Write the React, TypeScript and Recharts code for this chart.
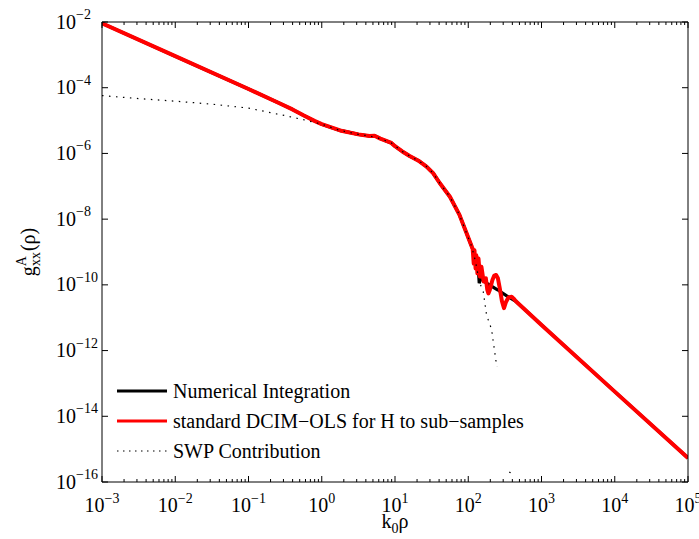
import { LineChart, Line, XAxis, YAxis, Legend, Label } from "recharts"

const FONT = '"Liberation Serif", "Times New Roman", serif'

// log10(k0*rho) and log10(g_xx^A)
const numLogX = [-3, -2, -1, -0.6, -0.4, -0.25, -0.1, 0, 0.25, 0.5, 0.65, 0.72, 0.8, 0.88, 0.95, 1.0, 1.1, 1.2, 1.32, 1.43, 1.52, 1.61, 1.75, 1.88, 1.96, 2.05, 2.08, 2.1, 2.12, 2.14, 2.15, 2.17, 2.25, 2.4, 2.52, 2.65, 3, 4, 5]
const numLogY = [-2.04, -3.04, -4.04, -4.45, -4.66, -4.84, -5.01, -5.11, -5.3, -5.42, -5.47, -5.46, -5.55, -5.62, -5.68, -5.78, -5.94, -6.08, -6.22, -6.4, -6.6, -6.9, -7.32, -7.87, -8.33, -8.85, -9.0, -9.3, -9.4, -9.6, -9.95, -9.8, -9.95, -10.15, -10.33, -10.5, -11.22, -13.25, -15.27]

const dcimLogX = [-3, -2, -1, -0.6, -0.4, -0.25, -0.1, 0, 0.25, 0.5, 0.65, 0.72, 0.8, 0.88, 0.95, 1.0, 1.1, 1.2, 1.32, 1.43, 1.52, 1.61, 1.75, 1.88, 1.96, 2.05, 2.06, 2.075, 2.085, 2.1, 2.11, 2.125, 2.14, 2.16, 2.18, 2.21, 2.24, 2.26, 2.275, 2.295, 2.33, 2.355, 2.38, 2.405, 2.43, 2.46, 2.488, 2.515, 2.55, 2.592, 2.62, 2.65, 3, 4, 5]
const dcimLogY = [-2.04, -3.04, -4.04, -4.45, -4.66, -4.84, -5.01, -5.11, -5.3, -5.42, -5.47, -5.46, -5.55, -5.62, -5.68, -5.78, -5.94, -6.08, -6.22, -6.4, -6.6, -6.9, -7.32, -7.87, -8.33, -8.85, -8.9, -9.35, -8.95, -9.5, -9.1, -9.65, -9.2, -9.75, -9.45, -9.9, -9.8, -10.15, -10.26, -10.15, -9.85, -9.72, -9.7, -9.8, -10.1, -10.5, -10.71, -10.52, -10.38, -10.36, -10.42, -10.5, -11.22, -13.25, -15.27]

const swpLogX = [-3, -2.5, -2, -1.5, -1, -0.5, -0.2, 0, 0.25, 0.5, 0.65, 0.8, 0.95, 1.1, 1.2, 1.32, 1.43, 1.52, 1.61, 1.75, 1.88, 1.96, 2.05, 2.1, 2.15, 2.205, 2.25, 2.318, 2.39]
const swpLogY = [-4.24, -4.33, -4.41, -4.5, -4.62, -4.85, -5.0, -5.11, -5.3, -5.42, -5.47, -5.55, -5.68, -5.94, -6.08, -6.22, -6.4, -6.6, -6.9, -7.32, -7.87, -8.33, -8.85, -9.3, -9.9, -10.21, -10.92, -11.35, -12.5]

const swpTailLogX = [2.56, 2.6]
const swpTailLogY = [-15.7, -15.74]

const xMajorExps = [-3, -2, -1, 0, 1, 2, 3, 4, 5]
const xMinorSteps = [2, 3, 4, 5, 6, 7, 8, 9]
const yMajorExps = [-16, -14, -12, -10, -8, -6, -4, -2]

const legendNames = ["Numerical Integration", "standard DCIM\u2212OLS for H to sub\u2212samples", "SWP Contribution"]

const toPoints = (lx: number[], ly: number[]) => lx.map((v, i) => ({ x: 10 ** v, y: 10 ** ly[i] }))

const numData = toPoints(numLogX, numLogY)
const dcimData = toPoints(dcimLogX, dcimLogY)
const swpData = toPoints(swpLogX, swpLogY)
const swpTailData = toPoints(swpTailLogX, swpTailLogY)

const xTicks: number[] = []
xMajorExps.forEach((e) => {
  xTicks.push(10 ** e)
  if (e < 5) xMinorSteps.forEach((m) => xTicks.push(m * 10 ** e))
})
const yTicks = yMajorExps.map((e) => 10 ** e)

const expText = (e: number) => (e < 0 ? "\u2212" + Math.abs(e) : String(e))

function isMajor(v: number) {
  const e = Math.log10(v)
  return Math.abs(e - Math.round(e)) < 1e-6
}

function BottomTick(props: any) {
  const { x, y, payload } = props
  const major = isMajor(payload.value)
  const e = Math.round(Math.log10(payload.value))
  return (
    <g>
      <line x1={x} x2={x} y1={y} y2={y - (major ? 6 : 3)} stroke="#000" />
      {major && (
        <text x={x} y={y + 30} textAnchor="middle" fontFamily={FONT} fill="#000">
          <tspan fontSize={20}>10</tspan>
          <tspan fontSize={14} dy={-9.5}>{expText(e)}</tspan>
        </text>
      )}
    </g>
  )
}

function TopTick(props: any) {
  const { x, y, payload } = props
  const major = isMajor(payload.value)
  return <line x1={x} x2={x} y1={y} y2={y + (major ? 6 : 3)} stroke="#000" />
}

function LeftTick(props: any) {
  const { x, y, payload } = props
  const e = Math.round(Math.log10(payload.value))
  return (
    <g>
      <line x1={x} x2={x + 6} y1={y} y2={y} stroke="#000" />
      <text x={x - 46} y={y + 6.5} textAnchor="start" fontFamily={FONT} fill="#000">
        <tspan fontSize={20}>10</tspan>
        <tspan fontSize={14} dy={-9.5}>{expText(e)}</tspan>
      </text>
    </g>
  )
}

function RightTick(props: any) {
  const { x, y } = props
  return <line x1={x} x2={x - 6} y1={y} y2={y} stroke="#000" />
}

function LegendBox() {
  const samples = [
    { stroke: "#000", width: 3, dash: undefined },
    { stroke: "#ff0000", width: 3, dash: undefined },
    { stroke: "#000", width: 1.2, dash: "1.5 4.5" },
  ]
  return (
    <div style={{ fontFamily: FONT, fontSize: 20, color: "#000" }}>
      {legendNames.map((name, i) => (
        <div key={name} style={{ display: "flex", alignItems: "center", height: 30 }}>
          <svg width={50} height={8} style={{ display: "block", flexShrink: 0 }}>
            <line x1={0} x2={50} y1={4} y2={4} stroke={samples[i].stroke} strokeWidth={samples[i].width} strokeDasharray={samples[i].dash} />
          </svg>
          <span style={{ marginLeft: 6, whiteSpace: "nowrap", lineHeight: "30px" }}>{name}</span>
        </div>
      ))}
    </div>
  )
}

export default function App() {
  return (
    <div style={{ position: "absolute", left: 0, top: 0, width: 699, height: 539, background: "#fff" }}>
      <LineChart width={699} height={539} margin={{ top: 21, right: 10, bottom: 56, left: 101 }}>
        <XAxis
          dataKey="x"
          type="number"
          scale="log"
          domain={[1e-3, 1e5]}
          allowDataOverflow
          ticks={xTicks}
          interval={0}
          height={1}
          tickSize={0}
          tickMargin={0}
          tickLine={false}
          axisLine={{ stroke: "#000" }}
          tick={BottomTick}
        >
          <Label
            content={() => (
              <text x={395} y={528} textAnchor="middle" fontFamily={FONT} fill="#000">
                <tspan fontSize={20}>k</tspan>
                <tspan fontSize={14} dy={5}>0</tspan>
                <tspan fontSize={20} dy={-5}>ρ</tspan>
              </text>
            )}
          />
        </XAxis>
        <XAxis
          xAxisId="top"
          orientation="top"
          dataKey="x"
          type="number"
          scale="log"
          domain={[1e-3, 1e5]}
          allowDataOverflow
          ticks={xTicks}
          interval={0}
          height={1}
          tickSize={0}
          tickMargin={0}
          tickLine={false}
          axisLine={{ stroke: "#000" }}
          tick={TopTick}
        />
        <YAxis
          type="number"
          scale="log"
          domain={[1e-16, 1e-2]}
          allowDataOverflow
          ticks={yTicks}
          interval={0}
          width={1}
          tickSize={0}
          tickMargin={0}
          tickLine={false}
          axisLine={{ stroke: "#000" }}
          tick={LeftTick}
        >
          <Label
            content={() => (
              <text transform="translate(35,252) rotate(-90)" textAnchor="middle" fontFamily={FONT} fill="#000">
                <tspan fontSize={20}>g</tspan>
                <tspan fontSize={14} dy={-9.5}>A</tspan>
                <tspan fontSize={14} dx={-10} dy={14}>xx</tspan>
                <tspan fontSize={20} dx={1} dy={-4.5}>(ρ)</tspan>
              </text>
            )}
          />
        </YAxis>
        <YAxis
          yAxisId="right"
          orientation="right"
          type="number"
          scale="log"
          domain={[1e-16, 1e-2]}
          allowDataOverflow
          ticks={yTicks}
          interval={0}
          width={1}
          tickSize={0}
          tickMargin={0}
          tickLine={false}
          axisLine={{ stroke: "#000" }}
          tick={RightTick}
        />
        <Line data={numData} dataKey="y" stroke="#000" strokeWidth={3.2} dot={false} isAnimationActive={false} />
        <Line data={dcimData} dataKey="y" stroke="#ff0000" strokeWidth={4} strokeLinejoin="round" dot={false} isAnimationActive={false} />
        <Line data={swpData} dataKey="y" stroke="#000" strokeWidth={1.2} strokeDasharray="1.5 5.5" dot={false} isAnimationActive={false} />
        <Line data={swpTailData} dataKey="y" stroke="#000" strokeWidth={1.2} strokeDasharray="1.5 5.5" dot={false} isAnimationActive={false} />
        <Legend
          layout="horizontal"
          verticalAlign="middle"
          align="center"
          wrapperStyle={{ left: 117, top: 376, width: 380, height: 90 }}
          content={() => <LegendBox />}
        />
      </LineChart>
    </div>
  )
}
